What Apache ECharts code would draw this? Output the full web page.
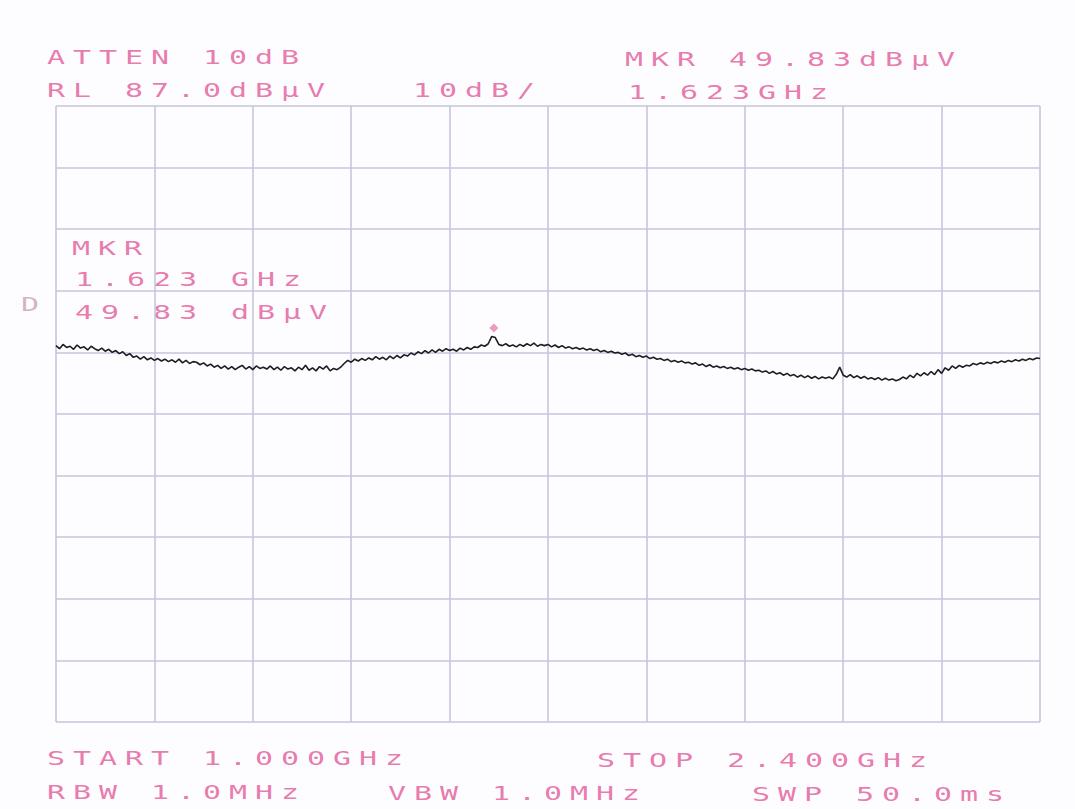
<!DOCTYPE html>
<html><head><meta charset="utf-8">
<script src="https://cdn.jsdelivr.net/npm/echarts@6/dist/echarts.min.js"></script>
<style>
html,body{margin:0;padding:0;background:#fdfcfe;}
#chart{width:1075px;height:809px;}
#chart text{letter-spacing:5.3px;}
</style></head><body><div id="chart"></div>
<script>
// Instrument settings
const sweepStartGHz = 1.0;
const sweepStopGHz = 2.4;
const refLevel = 87.0;      // dBµV, top graticule line
const dbPerDiv = 10;
const divisions = 10;
const markerFreqGHz = 1.623;
const markerLevel = 49.83;

// Trace levels (dBµV), read every 5 MHz from 1.000 to 2.400 GHz
const traceLevels = [
  48.1, 47.6, 48.3, 47.8, 48.0, 47.5, 48.2, 47.7, 47.9, 47.4, 48.0, 47.6, 47.3, 47.7, 47.2, 47.5, 47.0, 47.3, 46.8, 47.1,
  46.5, 46.8, 46.2, 46.4, 45.9, 46.3, 45.8, 46.1, 45.7, 46.0, 45.6, 45.9, 45.5, 45.8, 45.4, 45.9, 45.3, 45.7, 45.2, 45.5,
  45.4, 45.0, 45.3, 44.8, 45.1, 44.6, 44.9, 44.4, 44.8, 44.3, 44.7, 44.2, 44.6, 44.9, 44.3, 44.7, 44.2, 44.8, 44.4, 44.6,
  44.3, 44.8, 44.2, 44.6, 44.1, 44.7, 44.3, 44.5, 44.0, 44.6, 44.2, 44.9, 44.1, 44.5, 44.0, 44.7, 44.3, 44.8, 44.0, 44.4,
  44.2, 44.6, 45.2, 45.7, 45.4, 45.9, 45.6, 46.0, 45.7, 46.1, 45.8, 46.3, 45.9, 46.2, 45.8, 46.4, 46.0, 46.5, 46.1, 46.6,
  46.4, 46.9, 46.6, 47.1, 46.8, 47.3, 46.9, 47.4, 47.0, 47.5, 47.2, 47.6, 47.3, 47.5, 47.2, 47.7, 47.4, 47.8, 47.5, 47.9,
  47.8, 48.2, 48.0, 48.4, 49.6, 49.4, 48.3, 48.1, 48.4, 48.0, 48.2, 47.9, 48.3, 48.0, 48.4, 48.1, 48.5, 48.0, 48.3, 48.1,
  48.3, 47.9, 48.2, 47.8, 48.1, 47.7, 47.9, 47.6, 47.8, 47.5, 47.7, 47.4, 47.6, 47.3, 47.5, 47.1, 47.3, 47.0, 47.2, 46.9,
  47.0, 46.7, 46.9, 46.5, 46.7, 46.3, 46.5, 46.2, 46.4, 46.0, 46.2, 45.9, 46.0, 45.7, 45.9, 45.5, 45.7, 45.4, 45.6, 45.3,
  45.4, 45.1, 45.3, 44.9, 45.1, 44.7, 45.0, 44.6, 44.8, 44.5, 44.7, 44.4, 44.6, 44.3, 44.5, 44.2, 44.4, 44.1, 44.3, 44.0,
  44.1, 43.8, 44.0, 43.6, 43.9, 43.5, 43.7, 43.3, 43.6, 43.2, 43.4, 43.0, 43.3, 42.9, 43.2, 42.8, 43.1, 42.7, 43.0, 42.8,
  43.0, 42.7, 43.4, 44.6, 43.3, 43.0, 43.4, 42.9, 43.2, 42.8, 43.1, 42.7, 42.9, 42.6, 42.9, 42.5, 42.8, 42.5, 42.7, 42.4,
  42.6, 43.0, 42.7, 43.3, 42.9, 43.6, 43.2, 43.7, 43.3, 43.9, 43.4, 44.2, 43.6, 44.5, 44.1, 44.8, 44.4, 44.9, 44.6, 44.9,
  44.8, 45.2, 45.0, 45.3, 45.1, 45.4, 45.2, 45.5, 45.3, 45.6, 45.4, 45.7, 45.5, 45.8, 45.6, 45.9, 45.7, 46.0, 45.8, 46.1,
  46.0
];

// Annotation texts
const topLabels = ['ATTEN 10dB', 'RL 87.0dBµV', '10dB/', 'MKR 49.83dBµV', '1.623GHz'];
const markerLabels = ['MKR', '1.623 GHz', '49.83 dBµV'];
const bottomLabels = ['START 1.000GHz', 'STOP 2.400GHz', 'RBW 1.0MHz', 'VBW 1.0MHz', 'SWP 50.0ms'];
const sideLabel = 'D';

// ---- build ----
const stepGHz = (sweepStopGHz - sweepStartGHz) / (traceLevels.length - 1);
const traceData = traceLevels.map((v, i) => [sweepStartGHz + i * stepGHz, v]);
const bottomLevel = refLevel - dbPerDiv * divisions;

const textColor = '#e46aa4';
const font = '20px "DejaVu Sans Mono"';
const topPos = [[47, 57], [47, 90], [413, 90], [625, 59], [628, 92]];
const mkrPos = [[72, 248], [75, 279], [75, 312]];
const botPos = [[47, 758], [597, 760], [47, 792], [388, 793], [752, 794]];

function txt(t, p, color) {
  return { type: 'text', x: p[0], y: p[1], scaleX: 1.5, silent: true,
    style: { text: t, fill: color || textColor, font: font, verticalAlign: 'middle', align: 'left', opacity: 0.88 } };
}
const graphics = [];
topLabels.forEach((t, i) => graphics.push(txt(t, topPos[i])));
markerLabels.forEach((t, i) => graphics.push(txt(t, mkrPos[i])));
bottomLabels.forEach((t, i) => graphics.push(txt(t, botPos[i])));
graphics.push(txt(sideLabel, [21, 304], '#cfa9bf'));

const gridLine = { show: true, lineStyle: { color: '#c6c6de', width: 1.6 } };

const chart = echarts.init(document.getElementById('chart'), null, { renderer: 'svg' });
chart.setOption({
  backgroundColor: '#fdfcfe',
  animation: false,
  grid: { left: 56, top: 106, right: 35, bottom: 87, containLabel: false },
  xAxis: [
    { type: 'value', min: sweepStartGHz, max: sweepStopGHz, show: false },
    { type: 'value', min: 0, max: divisions, interval: 1, position: 'bottom',
      axisLine: { show: false }, axisTick: { show: false }, axisLabel: { show: false }, splitLine: gridLine }
  ],
  yAxis: [
    { type: 'value', min: bottomLevel, max: refLevel, show: false },
    { type: 'value', min: 0, max: divisions, interval: 1,
      axisLine: { show: false }, axisTick: { show: false }, axisLabel: { show: false }, splitLine: gridLine }
  ],
  series: [{
    type: 'line', xAxisIndex: 0, yAxisIndex: 0, data: traceData,
    showSymbol: false, lineStyle: { color: '#1e1e22', width: 1.6 },
    markPoint: {
      symbol: 'diamond', symbolSize: 9, symbolOffset: [0, -7],
      itemStyle: { color: '#ec9cc0' }, label: { show: false },
      data: [{ coord: [markerFreqGHz, markerLevel] }]
    }
  }],
  graphic: graphics
});
</script></body></html>
